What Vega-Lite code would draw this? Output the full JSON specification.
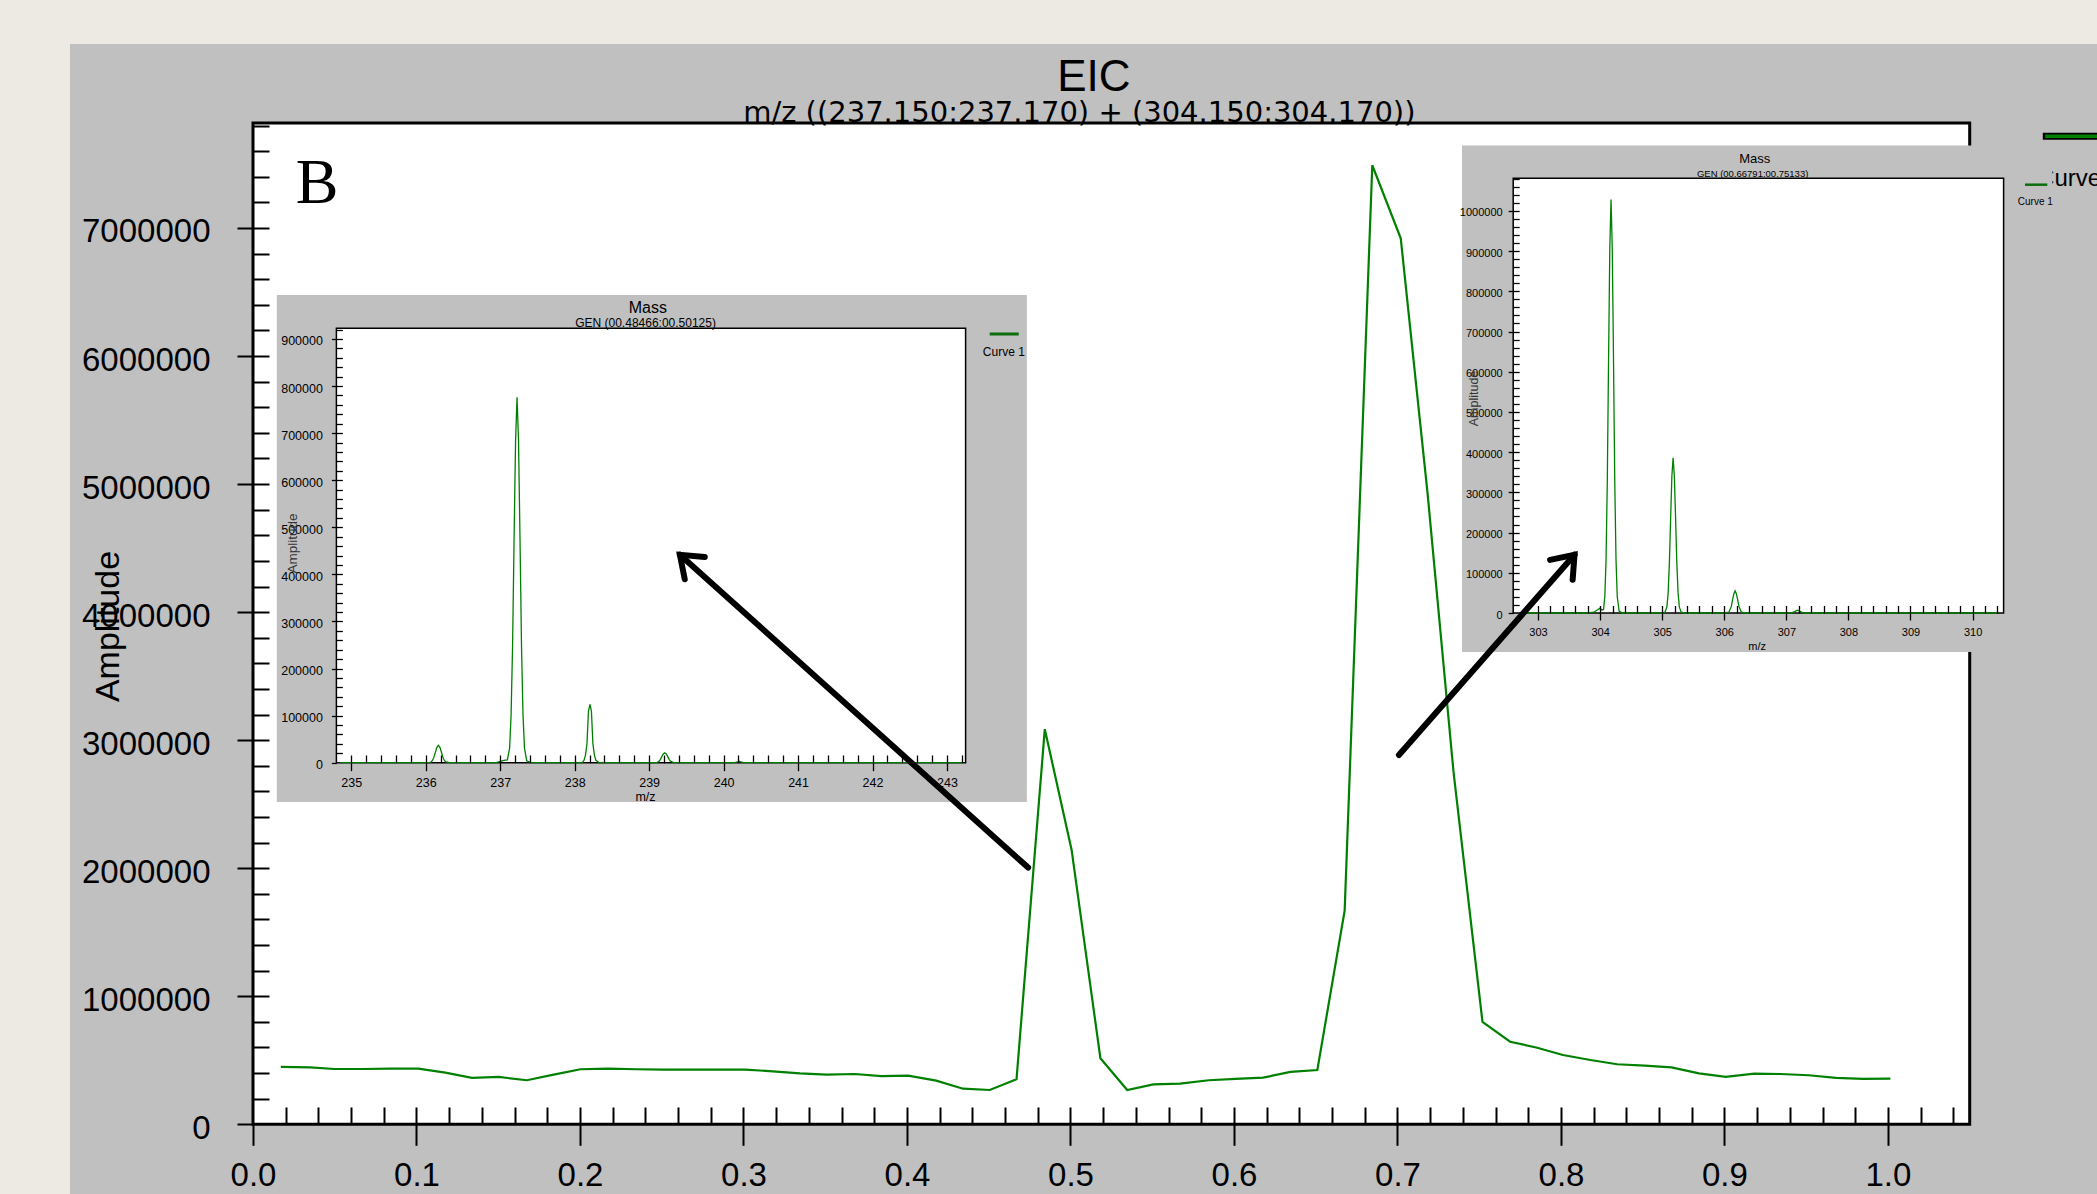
{
  "$schema": "https://vega.github.io/schema/vega-lite/v6.json",
  "width": 2027,
  "height": 1150,
  "autosize": {"type": "none"},
  "padding": {"left": 70, "top": 44, "right": 0, "bottom": 0},
  "background": "#EDEAE3",
  "config": {
    "view": {"fill": "#C0C0C0", "stroke": null},
    "axis": {"grid": false, "domain": false, "labelFlush": false, "labelOverlap": false, "labelBound": false, "labelColor": "black", "tickColor": "black", "titleColor": "black", "titleFontWeight": "normal", "zindex": 1}
  },
  "datasets": {
    "eic": [
      {"t": 0.017, "amp": 448000}, {"t": 0.035, "amp": 445000}, {"t": 0.0497, "amp": 432000}, {"t": 0.0677, "amp": 432000},
      {"t": 0.084, "amp": 435000}, {"t": 0.1012, "amp": 435000}, {"t": 0.1176, "amp": 403000}, {"t": 0.134, "amp": 362000},
      {"t": 0.1503, "amp": 370000}, {"t": 0.1675, "amp": 344000}, {"t": 0.1839, "amp": 388000}, {"t": 0.2003, "amp": 430000},
      {"t": 0.2174, "amp": 435000}, {"t": 0.2346, "amp": 430000}, {"t": 0.251, "amp": 427000}, {"t": 0.2673, "amp": 427000},
      {"t": 0.2845, "amp": 427000}, {"t": 0.301, "amp": 427000}, {"t": 0.318, "amp": 414000}, {"t": 0.3345, "amp": 398000},
      {"t": 0.3508, "amp": 388000}, {"t": 0.368, "amp": 393000}, {"t": 0.3843, "amp": 377000}, {"t": 0.4007, "amp": 380000},
      {"t": 0.4179, "amp": 341000}, {"t": 0.4343, "amp": 278000}, {"t": 0.4506, "amp": 268000}, {"t": 0.467, "amp": 352000},
      {"t": 0.4843, "amp": 3086000}, {"t": 0.5007, "amp": 2143000}, {"t": 0.5183, "amp": 516000}, {"t": 0.5347, "amp": 268000},
      {"t": 0.5507, "amp": 312000}, {"t": 0.567, "amp": 317000}, {"t": 0.5846, "amp": 344000}, {"t": 0.601, "amp": 354000},
      {"t": 0.6178, "amp": 364000}, {"t": 0.6346, "amp": 409000}, {"t": 0.651, "amp": 424000}, {"t": 0.6677, "amp": 1669000},
      {"t": 0.6846, "amp": 7490000}, {"t": 0.702, "amp": 6920000}, {"t": 0.7184, "amp": 4930000}, {"t": 0.7343, "amp": 2750000},
      {"t": 0.752, "amp": 800000}, {"t": 0.7689, "amp": 645000}, {"t": 0.7849, "amp": 600000}, {"t": 0.8012, "amp": 541000},
      {"t": 0.818, "amp": 502000}, {"t": 0.8344, "amp": 469000}, {"t": 0.8512, "amp": 458000}, {"t": 0.8676, "amp": 445000},
      {"t": 0.8844, "amp": 398000}, {"t": 0.9008, "amp": 370000}, {"t": 0.9183, "amp": 395000}, {"t": 0.934, "amp": 393000},
      {"t": 0.9515, "amp": 383000}, {"t": 0.9683, "amp": 362000}, {"t": 0.9847, "amp": 354000}, {"t": 1.0015, "amp": 356000}
    ],
    "ms1": [
      {"mz": 234.85, "i": 0}, {"mz": 236.05, "i": 0}, {"mz": 236.07, "i": 1500}, {"mz": 236.09, "i": 4800}, {"mz": 236.11, "i": 11800},
      {"mz": 236.13, "i": 22600}, {"mz": 236.15, "i": 32600}, {"mz": 236.17, "i": 37000}, {"mz": 236.19, "i": 32600}, {"mz": 236.21, "i": 22600},
      {"mz": 236.23, "i": 11800}, {"mz": 236.25, "i": 4800}, {"mz": 236.27, "i": 1500}, {"mz": 236.32, "i": 0},
      {"mz": 236.95, "i": 0}, {"mz": 237.0, "i": 3000}, {"mz": 237.05, "i": 5000}, {"mz": 237.096, "i": 6000}, {"mz": 237.126, "i": 31000},
      {"mz": 237.146, "i": 101000}, {"mz": 237.166, "i": 248000}, {"mz": 237.186, "i": 473000}, {"mz": 237.206, "i": 683000},
      {"mz": 237.226, "i": 776000}, {"mz": 237.246, "i": 683000}, {"mz": 237.266, "i": 473000}, {"mz": 237.286, "i": 248000},
      {"mz": 237.306, "i": 101000}, {"mz": 237.326, "i": 31000}, {"mz": 237.356, "i": 3900}, {"mz": 237.41, "i": 0},
      {"mz": 238.1, "i": 0}, {"mz": 238.125, "i": 5000}, {"mz": 238.145, "i": 16000}, {"mz": 238.165, "i": 40000}, {"mz": 238.185, "i": 109000},
      {"mz": 238.205, "i": 124000}, {"mz": 238.225, "i": 109000}, {"mz": 238.245, "i": 40000}, {"mz": 238.265, "i": 16000},
      {"mz": 238.285, "i": 5000}, {"mz": 238.33, "i": 0},
      {"mz": 239.1, "i": 0}, {"mz": 239.13, "i": 2700}, {"mz": 239.15, "i": 6700}, {"mz": 239.17, "i": 12800}, {"mz": 239.19, "i": 18500},
      {"mz": 239.21, "i": 21000}, {"mz": 239.23, "i": 18500}, {"mz": 239.25, "i": 12800}, {"mz": 239.27, "i": 6700}, {"mz": 239.29, "i": 2700},
      {"mz": 239.33, "i": 0}, {"mz": 240.15, "i": 0}, {"mz": 240.19, "i": 2000}, {"mz": 240.21, "i": 3000}, {"mz": 240.23, "i": 2000},
      {"mz": 240.27, "i": 0}, {"mz": 243.2, "i": 0}
    ],
    "ms2": [
      {"mz": 302.7, "i": 0}, {"mz": 303.8, "i": 0}, {"mz": 303.9, "i": 2000}, {"mz": 303.96, "i": 8000}, {"mz": 304.0, "i": 12000},
      {"mz": 304.03, "i": 7000}, {"mz": 304.056, "i": 9000}, {"mz": 304.076, "i": 41000}, {"mz": 304.096, "i": 134000}, {"mz": 304.116, "i": 329000},
      {"mz": 304.136, "i": 627000}, {"mz": 304.156, "i": 905000}, {"mz": 304.176, "i": 1028000}, {"mz": 304.196, "i": 905000},
      {"mz": 304.216, "i": 627000}, {"mz": 304.236, "i": 329000}, {"mz": 304.256, "i": 134000}, {"mz": 304.276, "i": 41000},
      {"mz": 304.306, "i": 5000}, {"mz": 304.36, "i": 0},
      {"mz": 305.0, "i": 0}, {"mz": 305.046, "i": 2000}, {"mz": 305.076, "i": 15000}, {"mz": 305.096, "i": 50000}, {"mz": 305.116, "i": 124000},
      {"mz": 305.136, "i": 235000}, {"mz": 305.156, "i": 340000}, {"mz": 305.176, "i": 386000}, {"mz": 305.196, "i": 340000},
      {"mz": 305.216, "i": 235000}, {"mz": 305.236, "i": 124000}, {"mz": 305.256, "i": 50000}, {"mz": 305.276, "i": 15000},
      {"mz": 305.306, "i": 2000}, {"mz": 305.36, "i": 0},
      {"mz": 306.0, "i": 0}, {"mz": 306.075, "i": 2000}, {"mz": 306.115, "i": 17000}, {"mz": 306.135, "i": 34000}, {"mz": 306.155, "i": 48000},
      {"mz": 306.175, "i": 55000}, {"mz": 306.195, "i": 48000}, {"mz": 306.215, "i": 34000}, {"mz": 306.235, "i": 17000},
      {"mz": 306.275, "i": 2000}, {"mz": 306.33, "i": 0},
      {"mz": 307.08, "i": 0}, {"mz": 307.14, "i": 4000}, {"mz": 307.18, "i": 7000}, {"mz": 307.22, "i": 4000}, {"mz": 307.28, "i": 0},
      {"mz": 310.4, "i": 0}
    ]
  },
  "layer": [
    {
      "layer": [
        {
          "data": {"values": [{}]},
          "mark": {"type": "rect", "fill": "white", "stroke": "black", "strokeWidth": 3},
          "encoding": {
            "x": {"datum": 0, "type": "quantitative", "scale": {"domain": [0, 1.05], "range": [183, 1899.7], "nice": false, "zero": false},
              "axis": {"orient": "bottom", "offset": -69.7, "values": [0, 0.1, 0.2, 0.3, 0.4, 0.5, 0.6, 0.7, 0.8, 0.9, 1.0], "format": ".1f", "tickSize": 21, "tickWidth": 2, "labelFont": "Liberation Sans", "labelFontSize": 33, "labelPadding": 14, "title": "Time (min)", "titleFont": "Liberation Sans", "titleFontSize": 34, "titleX": 1023, "titleY": 66.7, "titleBaseline": "top", "titleAlign": "center", "titleAngle": 0, "zindex": 1}},
            "x2": {"datum": 1.05},
            "y": {"datum": 0, "type": "quantitative", "scale": {"domain": [0, 7820000], "range": [1080.3, 79], "nice": false, "zero": false},
              "axis": {"orient": "left", "offset": -183, "values": [0, 1000000, 2000000, 3000000, 4000000, 5000000, 6000000, 7000000], "format": "d", "tickSize": 16, "tickWidth": 2, "labelFont": "Liberation Sans", "labelFontSize": 33, "labelPadding": 27, "labelOffset": 4, "title": "Amplitude", "titleFont": "Liberation Sans", "titleFontSize": 34, "titleX": -144.5, "titleY": 582, "titleAngle": 270, "titleAlign": "center", "titleBaseline": "middle", "zindex": 1}},
            "y2": {"datum": 7820000}
          }
        },
        {
          "data": {"name": "eic"},
          "mark": {"type": "line", "color": "#008000", "strokeWidth": 2.2},
          "encoding": {
            "x": {"field": "t", "type": "quantitative", "scale": {"domain": [0, 1.05], "range": [183, 1899.7], "nice": false, "zero": false},
              "axis": {"orient": "top", "offset": -1080.3, "values": [0.02,0.04,0.06,0.08,0.1,0.12,0.14,0.16,0.18,0.2,0.22,0.24,0.26,0.28,0.3,0.32,0.34,0.36,0.38,0.4,0.42,0.44,0.46,0.48,0.5,0.52,0.54,0.56,0.58,0.6,0.62,0.64,0.66,0.68,0.7,0.72,0.74,0.76,0.78,0.8,0.82,0.84,0.86,0.88,0.9,0.92,0.94,0.96,0.98,1,1.02,1.04], "tickSize": 17.3, "tickWidth": 2, "labels": false, "title": null, "zindex": 1}},
            "y": {"field": "amp", "type": "quantitative", "scale": {"domain": [0, 7820000], "range": [1080.3, 79], "nice": false, "zero": false},
              "axis": {"orient": "right", "offset": -1844, "values": [200000,400000,600000,800000,1000000,1200000,1400000,1600000,1800000,2000000,2200000,2400000,2600000,2800000,3000000,3200000,3400000,3600000,3800000,4000000,4200000,4400000,4600000,4800000,5000000,5200000,5400000,5600000,5800000,6000000,6200000,6400000,6600000,6800000,7000000,7200000,7400000,7600000,7800000], "tickSize": 16, "tickWidth": 2, "labels": false, "title": null, "zindex": 1}}
          }
        },
        {
          "data": {"values": [{}]},
          "mark": {"type": "text", "text": "B", "font": "Liberation Serif", "fontSize": 64, "align": "center", "baseline": "middle", "color": "black"},
          "encoding": {"x": {"datum": 0.0392, "type": "quantitative", "axis": null}, "y": {"datum": 7342000, "type": "quantitative", "axis": null}}
        },
        {
          "data": {"values": [{}]},
          "mark": {"type": "text", "text": "EIC", "font": "Liberation Sans", "fontSize": 44, "align": "center", "baseline": "alphabetic", "color": "black"},
          "encoding": {"x": {"datum": 0.5143, "type": "quantitative", "axis": null}, "y": {"datum": 8067000, "type": "quantitative", "axis": null}}
        },
        {
          "data": {"values": [{}]},
          "mark": {"type": "text", "text": "m/z ((237.150:237.170) + (304.150:304.170))", "font": "DejaVu Sans", "fontSize": 29, "align": "center", "baseline": "alphabetic", "color": "black"},
          "encoding": {"x": {"datum": 0.5054, "type": "quantitative", "axis": null}, "y": {"datum": 7830000, "type": "quantitative", "axis": null}}
        },
        {
          "data": {"values": [{}]},
          "mark": {"type": "rule", "color": "black", "strokeWidth": 7},
          "encoding": {"x": {"datum": 1.0947, "type": "quantitative", "axis": null}, "x2": {"datum": 1.2}, "y": {"datum": 7717000, "type": "quantitative", "axis": null}}
        },
        {
          "data": {"values": [{}]},
          "mark": {"type": "rule", "color": "#008000", "strokeWidth": 3.5},
          "encoding": {"x": {"datum": 1.0962, "type": "quantitative", "axis": null}, "x2": {"datum": 1.2}, "y": {"datum": 7717000, "type": "quantitative", "axis": null}}
        },
        {
          "data": {"values": [{}]},
          "mark": {"type": "text", "text": "Curve 1", "font": "Liberation Sans", "fontSize": 24, "align": "left", "baseline": "alphabetic", "color": "black"},
          "encoding": {"x": {"datum": 1.0912, "type": "quantitative", "axis": null}, "y": {"datum": 7325000, "type": "quantitative", "axis": null}}
        }
      ],
      "resolve": {"axis": {"x": "independent", "y": "independent"}}
    },
    {
      "layer": [
        {
          "data": {"values": [{}]},
          "mark": {"type": "rect", "fill": "#C0C0C0"},
          "encoding": {
            "x": {"datum": 234.0, "type": "quantitative", "scale": {"domain": [234.8, 243.25], "range": [266.4, 895.6], "nice": false, "zero": false}, "axis": null},
            "x2": {"datum": 244.073},
            "y": {"datum": -83500, "type": "quantitative", "scale": {"domain": [0, 922700], "range": [718.7, 284.3], "nice": false, "zero": false}, "axis": null},
            "y2": {"datum": 993400}
          }
        },
        {
          "data": {"values": [{}]},
          "mark": {"type": "rect", "fill": "white", "stroke": "black", "strokeWidth": 1.5},
          "encoding": {
            "x": {"datum": 234.8, "type": "quantitative", "scale": {"domain": [234.8, 243.25], "range": [266.4, 895.6], "nice": false, "zero": false},
              "axis": {"orient": "bottom", "offset": -431.3, "values": [235, 236, 237, 238, 239, 240, 241, 242, 243], "format": "d", "tickSize": 8, "tickWidth": 1.3, "labelFont": "Liberation Sans", "labelFontSize": 12.5, "labelPadding": 6, "title": "m/z", "titleFont": "Liberation Sans", "titleFontSize": 12.5, "titleX": 575, "titleY": 34, "titleBaseline": "middle", "titleAlign": "center", "titleAngle": 0, "zindex": 1}},
            "x2": {"datum": 243.25},
            "y": {"datum": 0, "type": "quantitative", "scale": {"domain": [0, 922700], "range": [718.7, 284.3], "nice": false, "zero": false},
              "axis": {"orient": "left", "offset": -266.4, "values": [0, 100000, 200000, 300000, 400000, 500000, 600000, 700000, 800000, 900000], "format": "d", "tickSize": 5, "tickWidth": 1.3, "labelFont": "Liberation Sans", "labelFontSize": 12.5, "labelPadding": 9, "labelOffset": 2, "title": "Amplitude", "titleFont": "Liberation Sans", "titleFontSize": 13.5, "titleColor": "#333333", "titleX": -43.6, "titleY": 499, "titleAngle": 270, "titleAlign": "center", "titleBaseline": "middle", "zindex": 1}},
            "y2": {"datum": 922700}
          }
        },
        {
          "data": {"name": "ms1"},
          "mark": {"type": "line", "color": "#008000", "strokeWidth": 1.3},
          "encoding": {
            "x": {"field": "mz", "type": "quantitative", "scale": {"domain": [234.8, 243.25], "range": [266.4, 895.6], "nice": false, "zero": false},
              "axis": {"orient": "top", "offset": -718.7, "values": [235,235.2,235.4,235.6,235.8,236,236.2,236.4,236.6,236.8,237,237.2,237.4,237.6,237.8,238,238.2,238.4,238.6,238.8,239,239.2,239.4,239.6,239.8,240,240.2,240.4,240.6,240.8,241,241.2,241.4,241.6,241.8,242,242.2,242.4,242.6,242.8,243,243.2], "tickSize": 7.7, "tickWidth": 1.3, "labels": false, "title": null, "zindex": 1}},
            "y": {"field": "i", "type": "quantitative", "scale": {"domain": [0, 922700], "range": [718.7, 284.3], "nice": false, "zero": false},
              "axis": {"orient": "right", "offset": -1760.6, "values": [20000,40000,60000,80000,100000,120000,140000,160000,180000,200000,220000,240000,260000,280000,300000,320000,340000,360000,380000,400000,420000,440000,460000,480000,500000,520000,540000,560000,580000,600000,620000,640000,660000,680000,700000,720000,740000,760000,780000,800000,820000,840000,860000,880000,900000,920000], "tickSize": 6, "tickWidth": 1.3, "labels": false, "title": null, "zindex": 1}}
          }
        },
        {
          "data": {"values": [{}]},
          "mark": {"type": "text", "text": "Mass", "font": "Liberation Sans", "fontSize": 16, "align": "center", "baseline": "middle", "color": "black"},
          "encoding": {"x": {"datum": 238.983, "type": "quantitative", "axis": null}, "y": {"datum": 965800, "type": "quantitative", "axis": null}}
        },
        {
          "data": {"values": [{}]},
          "mark": {"type": "text", "text": "GEN (00.48466:00.50125)", "font": "Liberation Sans", "fontSize": 12, "align": "center", "baseline": "alphabetic", "color": "black"},
          "encoding": {"x": {"datum": 238.952, "type": "quantitative", "axis": null}, "y": {"datum": 925400, "type": "quantitative", "axis": null}}
        },
        {
          "data": {"values": [{}]},
          "mark": {"type": "rule", "color": "#0b6e0b", "strokeWidth": 3},
          "encoding": {"x": {"datum": 243.573, "type": "quantitative", "axis": null}, "x2": {"datum": 243.964}, "y": {"datum": 910600, "type": "quantitative", "axis": null}}
        },
        {
          "data": {"values": [{}]},
          "mark": {"type": "text", "text": "Curve 1", "font": "Liberation Sans", "fontSize": 12, "align": "center", "baseline": "middle", "color": "black"},
          "encoding": {"x": {"datum": 243.764, "type": "quantitative", "axis": null}, "y": {"datum": 873000, "type": "quantitative", "axis": null}}
        }
      ],
      "resolve": {"axis": {"x": "independent", "y": "independent"}}
    },
    {
      "layer": [
        {
          "data": {"values": [{}]},
          "mark": {"type": "rect", "fill": "#C0C0C0"},
          "encoding": {
            "x": {"datum": 301.775, "type": "quantitative", "scale": {"domain": [302.6, 310.5], "range": [1443.2, 1933.6], "nice": false, "zero": false}, "axis": null},
            "x2": {"datum": 311.285},
            "y": {"datum": -96900, "type": "quantitative", "scale": {"domain": [0, 1081000], "range": [569, 134.3], "nice": false, "zero": false}, "axis": null},
            "y2": {"datum": 1162700}
          }
        },
        {
          "data": {"values": [{}]},
          "mark": {"type": "rect", "fill": "white", "stroke": "black", "strokeWidth": 1.5},
          "encoding": {
            "x": {"datum": 302.6, "type": "quantitative", "scale": {"domain": [302.6, 310.5], "range": [1443.2, 1933.6], "nice": false, "zero": false},
              "axis": {"orient": "bottom", "offset": -581, "values": [303, 304, 305, 306, 307, 308, 309, 310], "format": "d", "tickSize": 7, "tickWidth": 1.3, "labelFont": "Liberation Sans", "labelFontSize": 11, "labelPadding": 6, "title": "m/z", "titleFont": "Liberation Sans", "titleFontSize": 11, "titleX": 1686.6, "titleY": 33.7, "titleBaseline": "middle", "titleAlign": "center", "titleAngle": 0, "zindex": 1}},
            "x2": {"datum": 310.5},
            "y": {"datum": 0, "type": "quantitative", "scale": {"domain": [0, 1081000], "range": [569, 134.3], "nice": false, "zero": false},
              "axis": {"orient": "left", "offset": -1443.2, "values": [0, 100000, 200000, 300000, 400000, 500000, 600000, 700000, 800000, 900000, 1000000], "format": "d", "tickSize": 5, "tickWidth": 1.3, "labelFont": "Liberation Sans", "labelFontSize": 11, "labelPadding": 6, "labelOffset": 2, "title": "Amplitude", "titleFont": "Liberation Sans", "titleFontSize": 12.5, "titleColor": "#333333", "titleX": -40.2, "titleY": 354, "titleAngle": 270, "titleAlign": "center", "titleBaseline": "middle", "zindex": 1}},
            "y2": {"datum": 1081000}
          }
        },
        {
          "data": {"name": "ms2"},
          "mark": {"type": "line", "color": "#008000", "strokeWidth": 1.3},
          "encoding": {
            "x": {"field": "mz", "type": "quantitative", "scale": {"domain": [302.6, 310.5], "range": [1443.2, 1933.6], "nice": false, "zero": false},
              "axis": {"orient": "top", "offset": -569, "values": [302.8,303,303.2,303.4,303.6,303.8,304,304.2,304.4,304.6,304.8,305,305.2,305.4,305.6,305.8,306,306.2,306.4,306.6,306.8,307,307.2,307.4,307.6,307.8,308,308.2,308.4,308.6,308.8,309,309.2,309.4,309.6,309.8,310,310.2,310.4], "tickSize": 7.5, "tickWidth": 1.3, "labels": false, "title": null, "zindex": 1}},
            "y": {"field": "i", "type": "quantitative", "scale": {"domain": [0, 1081000], "range": [569, 134.3], "nice": false, "zero": false},
              "axis": {"orient": "right", "offset": -583.8, "values": [20000,40000,60000,80000,100000,120000,140000,160000,180000,200000,220000,240000,260000,280000,300000,320000,340000,360000,380000,400000,420000,440000,460000,480000,500000,520000,540000,560000,580000,600000,620000,640000,660000,680000,700000,720000,740000,760000,780000,800000,820000,840000,860000,880000,900000,920000,940000,960000,980000,1000000,1020000,1040000,1060000,1080000], "tickSize": 6, "tickWidth": 1.3, "labels": false, "title": null, "zindex": 1}}
          }
        },
        {
          "data": {"values": [{}]},
          "mark": {"type": "text", "text": "Mass", "font": "Liberation Sans", "fontSize": 13, "align": "center", "baseline": "middle", "color": "black"},
          "encoding": {"x": {"datum": 306.49, "type": "quantitative", "axis": null}, "y": {"datum": 1129700, "type": "quantitative", "axis": null}}
        },
        {
          "data": {"values": [{}]},
          "mark": {"type": "text", "text": "GEN (00.66791:00.75133)", "font": "Liberation Sans", "fontSize": 9.5, "align": "center", "baseline": "alphabetic", "color": "black"},
          "encoding": {"x": {"datum": 306.457, "type": "quantitative", "axis": null}, "y": {"datum": 1083200, "type": "quantitative", "axis": null}}
        },
        {
          "data": {"values": [{}]},
          "mark": {"type": "rule", "color": "#0b6e0b", "strokeWidth": 2.5},
          "encoding": {"x": {"datum": 310.845, "type": "quantitative", "axis": null}, "x2": {"datum": 311.204}, "y": {"datum": 1065100, "type": "quantitative", "axis": null}}
        },
        {
          "data": {"values": [{}]},
          "mark": {"type": "text", "text": "Curve 1", "font": "Liberation Sans", "fontSize": 10, "align": "center", "baseline": "middle", "color": "black"},
          "encoding": {"x": {"datum": 311.011, "type": "quantitative", "axis": null}, "y": {"datum": 1021900, "type": "quantitative", "axis": null}}
        }
      ],
      "resolve": {"axis": {"x": "independent", "y": "independent"}}
    },
    {
      "layer": [
        {
          "data": {"values": [{}]},
          "mark": {"type": "rule", "color": "black", "strokeWidth": 6, "strokeCap": "round"},
          "encoding": {
            "x": {"datum": 0.4741, "type": "quantitative", "scale": {"domain": [0, 1.05], "range": [183, 1899.7], "nice": false, "zero": false}, "axis": null},
            "x2": {"datum": 0.2611},
            "y": {"datum": 2005000, "type": "quantitative", "scale": {"domain": [0, 7820000], "range": [1080.3, 79], "nice": false, "zero": false}, "axis": null},
            "y2": {"datum": 4448000}
          }
        },
        {
          "data": {"values": [{}]},
          "mark": {"type": "rule", "color": "black", "strokeWidth": 6, "strokeCap": "round"},
          "encoding": {
            "x": {"datum": 0.7009, "type": "quantitative", "axis": null},
            "x2": {"datum": 0.8083},
            "y": {"datum": 2884000, "type": "quantitative", "axis": null},
            "y2": {"datum": 4448000}
          }
        },
        {
          "data": {"values": [{}]},
          "mark": {"type": "point", "shape": "M-1,-0.75L0,0L-1,0.75", "filled": false, "stroke": "black", "strokeWidth": 6, "size": 1600, "angle": 221.9, "opacity": 1, "strokeCap": "round", "strokeJoin": "miter"},
          "encoding": {"x": {"datum": 0.2611, "type": "quantitative", "axis": null}, "y": {"datum": 4448000, "type": "quantitative", "axis": null}}
        },
        {
          "data": {"values": [{}]},
          "mark": {"type": "point", "shape": "M-1,-0.75L0,0L-1,0.75", "filled": false, "stroke": "black", "strokeWidth": 6, "size": 1600, "angle": 311.2, "opacity": 1, "strokeCap": "round", "strokeJoin": "miter"},
          "encoding": {"x": {"datum": 0.8083, "type": "quantitative", "axis": null}, "y": {"datum": 4448000, "type": "quantitative", "axis": null}}
        }
      ]
    }
  ],
  "resolve": {
    "scale": {"x": "independent", "y": "independent"},
    "axis": {"x": "independent", "y": "independent"}
  }
}
